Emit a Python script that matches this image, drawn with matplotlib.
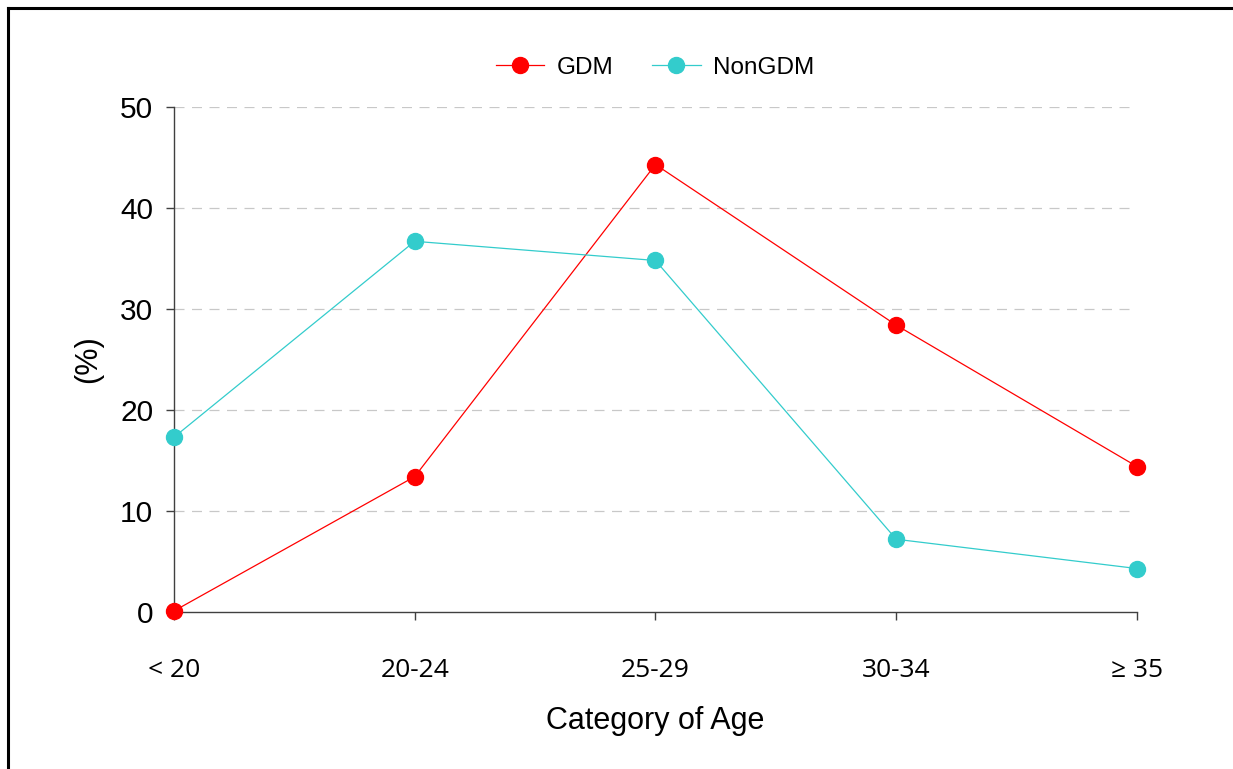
import matplotlib.pyplot as plt
from matplotlib.lines import Line2D

# age groups and share of women (%) in each group
categories = ["< 20", "20-24", "25-29", "30-34", "\u2265 35"]
gdm = [0.1, 13.4, 44.3, 28.4, 14.4]
non_gdm = [17.3, 36.7, 34.8, 7.2, 4.3]

fig = plt.figure(figsize=(12.33, 7.69), dpi=100)
ax = fig.add_axes([0.1411, 0.2042, 0.7810, 0.6567])

x = list(range(len(categories)))
ax.plot(x, gdm, color="#FF0000", lw=0.9, marker="o", ms=11.5,
        label="GDM", clip_on=False, zorder=3)
ax.plot(x, non_gdm, color="#33CCCC", lw=0.9, marker="o", ms=11.5,
        label="NonGDM", clip_on=False, zorder=3)

ax.set_xlim(0, 4)
ax.set_ylim(0, 50)
ax.set_yticks([0, 10, 20, 30, 40, 50])
ax.set_xticks(x)

# dashed grid, no line at zero
for v in [10, 20, 30, 40, 50]:
    ax.axhline(v, color="#C8C8C8", lw=0.9, ls=(0, (8, 6)), zorder=1)

for s in ["top", "right"]:
    ax.spines[s].set_visible(False)
for s in ["left", "bottom"]:
    ax.spines[s].set_color("#404040")
    ax.spines[s].set_linewidth(1.0)
ax.tick_params(axis="y", direction="out", length=6, width=1.0,
               color="#404040", pad=9, labelsize=21)
ax.tick_params(axis="x", direction="out", length=6, width=1.0,
               color="#404040", pad=27, labelsize=19)
ax.set_xticklabels(categories, family="Open Sans", fontsize=19)
ax.set_yticklabels([str(v) for v in [0, 10, 20, 30, 40, 50]],
                   family="Liberation Sans", fontsize=21.5)

ax.set_ylabel("(%)", family="Liberation Sans", fontsize=22, labelpad=12)
ax.set_xlabel("Category of Age", family="Liberation Sans", fontsize=22,
              labelpad=17)

fig.legend(loc="center", bbox_to_anchor=(0.531, 0.912), ncol=2,
           frameon=False, prop={"family": "Liberation Sans", "size": 17.5},
           handlelength=2.0, columnspacing=1.6, handletextpad=0.5)

# outer frame
fig.add_artist(Line2D([8 / 1233, 1.0], [1 - 8 / 769, 1 - 8 / 769],
                      transform=fig.transFigure, color="black", lw=2.2))
fig.add_artist(Line2D([8 / 1233, 8 / 1233], [0, 1 - 8 / 769],
                      transform=fig.transFigure, color="black", lw=2.2))

fig.savefig("out.png", dpi=100)
